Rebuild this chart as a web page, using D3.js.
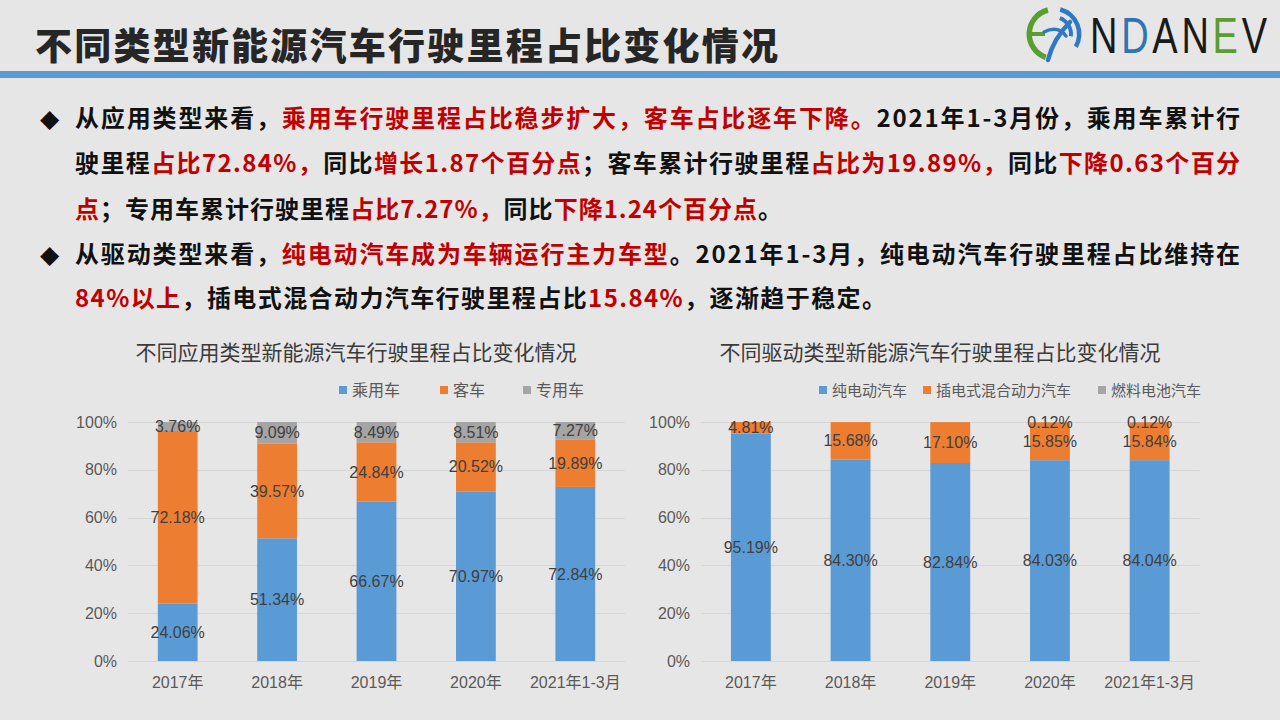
<!DOCTYPE html>
<html><head><meta charset="utf-8">
<script src="https://cdn.jsdelivr.net/npm/d3@7"></script>
<style>html,body{margin:0;padding:0;background:#e7e6e6;} svg{display:block}</style>
</head><body>
<svg id="c" width="1280" height="720"></svg>
<script>
// ---------- data ----------
const years = ["2017年","2018年","2019年","2020年","2021年1-3月"];
const appSeries = ["乘用车","客车","专用车"];
const passengerCar = [24.06, 51.34, 66.67, 70.97, 72.84];
const bus = [72.18, 39.57, 24.84, 20.52, 19.89];
const specialVehicle = [3.76, 9.09, 8.49, 8.51, 7.27];
const driveSeries = ["纯电动汽车","插电式混合动力汽车","燃料电池汽车"];
const bev = [95.19, 84.30, 82.84, 84.03, 84.04];
const phev = [4.81, 15.68, 17.10, 15.85, 15.84];
const fcev = [null, null, null, 0.12, 0.12];
const yTicks = [0, 20, 40, 60, 80, 100];
const colors = ["#5b9bd5", "#ed7d31", "#a5a5a5"];

const pageTitle = "不同类型新能源汽车行驶里程占比变化情况";
const chartTitles = ["不同应用类型新能源汽车行驶里程占比变化情况", "不同驱动类型新能源汽车行驶里程占比变化情况"];
const logoLetters = ["N","D","A","N","E","V"];
const textLines = [
  {bullet:true, end:1240, segs:[["从应用类型来看，",0],["乘用车行驶里程占比稳步扩大，客车占比逐年下降。",1],["2021年1-3月份，乘用车累计行",0]]},
  {end:1240, segs:[["驶里程",0],["占比72.84%，",1],["同比",0],["增长1.87个百分点",1],["；客车累计行驶里程",0],["占比为19.89%，",1],["同比",0],["下降0.63个百分",1]]},
  {end:782, segs:[["点",1],["；专用车累计行驶里程",0],["占比7.27%，",1],["同比",0],["下降1.24个百分点",1],["。",0]]},
  {bullet:true, end:1240, segs:[["从驱动类型来看，",0],["纯电动汽车成为车辆运行主力车型",1],["。2021年1-3月，纯电动汽车行驶里程占比维持在",0]]},
  {end:886, segs:[["84%以上",1],["，插电式混合动力汽车行驶里程占比",0],["15.84%",1],["，逐渐趋于稳定。",0]]}
];

const CJK = "'Noto Sans CJK SC','Noto Sans',sans-serif";
const ARIAL = "'Liberation Sans','Noto Sans CJK SC',sans-serif";

const svg = d3.select("#c");
svg.append("rect").attr("width",1280).attr("height",720).attr("fill","#e7e6e6");

// ---------- header ----------
const t = svg.append("text").attr("x",35).attr("y",60)
  .attr("font-family",CJK).attr("font-weight",900).attr("font-size",37)
  .attr("fill","#262626").text(pageTitle);
{
  const w = t.node().getComputedTextLength();
  const n = pageTitle.length;
  t.attr("letter-spacing",((778-35)-w)/(n-1));
}
svg.append("rect").attr("x",0).attr("y",71).attr("width",1280).attr("height",7).attr("fill","#5b9bd5");

// logo
const logo = svg.append("g").attr("transform","translate(1054,34)");
logo.append("path").attr("d", d3.arc().innerRadius(22).outerRadius(27.5).startAngle(-2.8).endAngle(-0.25)()).attr("fill","#5a9e32");
logo.append("rect").attr("x",-27).attr("y",-2).attr("width",18).attr("height",4).attr("fill","#5a9e32");
logo.append("path").attr("d", d3.arc().innerRadius(23).outerRadius(27.5).startAngle(0.25).endAngle(2.1)()).attr("fill","#2f78c4");
logo.append("path").attr("d", d3.arc().innerRadius(15).outerRadius(19).startAngle(0.35).endAngle(1.7)()).attr("fill","#2f78c4");
logo.append("path").attr("d","M-6,26 C-2,10 6,-2 16,-12").attr("fill","none").attr("stroke","#2f78c4").attr("stroke-width",4.5).attr("stroke-linecap","round");
logo.append("path").attr("d","M-10,-2 C-2,-6 6,-6 12,2").attr("fill","none").attr("stroke","#2f78c4").attr("stroke-width",3.5).attr("stroke-linecap","round");
const letterColors = ["#1a1a1a","#2e75b6","#1a1a1a","#1a1a1a","#5a9e32","#1a1a1a"];
{
  const sx = 0.76;
  const lg = svg.append("g").attr("transform",`translate(1090,53) scale(${sx},1)`);
  const texts = lg.selectAll("text").data(logoLetters).join("text")
    .attr("y",0).attr("font-family","'Liberation Sans',sans-serif")
    .attr("font-size",50).attr("fill",(d,i)=>letterColors[i]).text(d=>d);
  const widths = texts.nodes().map(n=>n.getComputedTextLength());
  const total = (1267-1090)/sx;
  const gap = (total - d3.sum(widths))/(widths.length-1);
  let cx = 0;
  texts.each(function(d,i){ d3.select(this).attr("x",cx); cx += widths[i] + gap; });
}

// ---------- paragraph text ----------
const baselines = [127, 172, 218, 263, 307];
textLines.forEach((ln,i)=>{
  if (ln.bullet) {
    svg.append("text").attr("x",40).attr("y",baselines[i]).attr("font-family","'DejaVu Sans',sans-serif")
      .attr("font-size",25).attr("fill","#111").text("◆");
  }
  const tx = svg.append("text").attr("x",75).attr("y",baselines[i])
    .attr("font-family",CJK).attr("font-weight",700).attr("font-size",24);
  ln.segs.forEach(([s,r])=>tx.append("tspan").attr("fill", r ? "#c00000" : "#111111").text(s));
  const w = tx.node().getComputedTextLength();
  const n = ln.segs.map(d=>d[0]).join("").length;
  tx.attr("letter-spacing", ((ln.end-75)-w)/(n-1));
});

// ---------- charts ----------
function drawChart(cfg){
  const g = svg.append("g");
  const x = d3.scaleBand().domain(years).range([cfg.x0,cfg.x1]).paddingInner(0.6).paddingOuter(0.3);
  const y = d3.scaleLinear().domain([0,100]).range([661,422]);

  g.append("text").attr("x",cfg.titleX).attr("y",360).attr("text-anchor","middle")
    .attr("font-family",CJK).attr("font-size",21).attr("fill","#3a3a3a").text(cfg.title);

  // legend
  cfg.names.forEach((nm,k)=>{
    g.append("rect").attr("x",cfg.legendX[k]).attr("y",386).attr("width",8).attr("height",8).attr("fill",colors[k]);
    g.append("text").attr("x",cfg.legendX[k]+13).attr("y",396).attr("font-family",CJK)
      .attr("font-size",cfg.legendSize).attr("fill","#595959").text(nm);
  });

  // grid
  g.append("g").selectAll("line").data(yTicks).join("line")
    .attr("x1",cfg.x0).attr("x2",cfg.x1)
    .attr("y1",d=>Math.round(y(d))+0.5).attr("y2",d=>Math.round(y(d))+0.5)
    .attr("stroke","#d6d6d6").attr("stroke-width",1);

  // y axis
  const ya = g.append("g").attr("transform",`translate(${cfg.x0},0)`)
    .call(d3.axisLeft(y).tickValues(yTicks).tickFormat(d=>d+"%").tickSize(0).tickPadding(cfg.x0-cfg.yLabelX));
  ya.select(".domain").remove();
  ya.selectAll("text").attr("font-family",ARIAL).attr("font-size",16).attr("fill","#595959");

  // x axis
  const xa = g.append("g").attr("transform","translate(0,661)")
    .call(d3.axisBottom(x).tickSize(0).tickPadding(16));
  xa.select(".domain").remove();
  xa.selectAll("text").attr("font-family",ARIAL).attr("font-size",16).attr("fill","#595959");

  const rows = years.map((c,i)=>{const o={cat:c}; cfg.keys.forEach((k,j)=>o[k]=cfg.series[j][i]); return o;});
  const stacked = d3.stack().keys(cfg.keys).value((d,k)=>d[k]||0)(rows);
  stacked.forEach((layer,k)=>{
    g.append("g").selectAll("rect").data(layer).join("rect")
      .attr("x",d=>x(d.data.cat)).attr("width",x.bandwidth())
      .attr("y",d=>y(d[1])).attr("height",d=>Math.max(0,y(d[0])-y(d[1])))
      .attr("fill",colors[k]);
  });
  stacked.forEach((layer,k)=>{
    g.append("g").selectAll("text").data(layer.filter(d=>d.data[cfg.keys[k]]!=null)).join("text")
      .attr("x",d=>x(d.data.cat)+x.bandwidth()/2).attr("y",d=>y((d[0]+d[1])/2)).attr("dy","0.35em")
      .attr("text-anchor","middle").attr("font-family",ARIAL).attr("font-size",16).attr("fill","#404040")
      .text(d=>d.data[cfg.keys[k]].toFixed(2)+"%");
  });
}

drawChart({x0:128, x1:625, yLabelX:117, titleX:356, title:chartTitles[0], legendSize:16,
  names:appSeries, keys:["a","b","c"], series:[passengerCar,bus,specialVehicle], legendX:[339,440,523]});
drawChart({x0:701, x1:1199.5, yLabelX:690, titleX:940, title:chartTitles[1], legendSize:15,
  names:driveSeries, keys:["a","b","c"], series:[bev,phev,fcev], legendX:[819,923,1098]});
</script>
</body></html>
